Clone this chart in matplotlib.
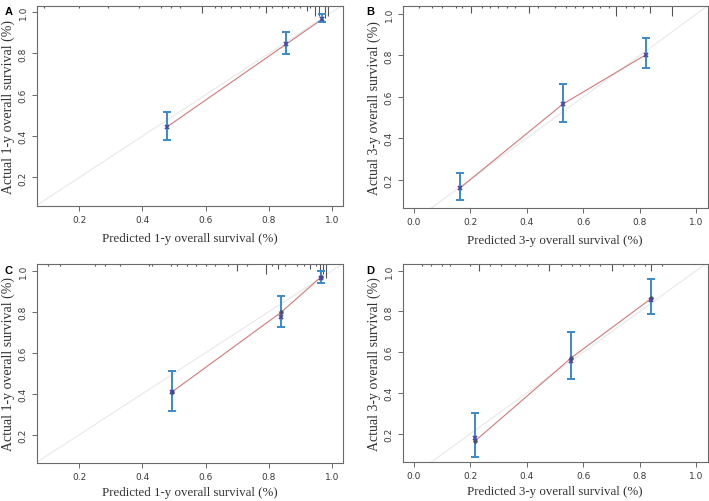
import matplotlib
matplotlib.use("Agg")
import matplotlib.pyplot as plt
import numpy as np

# ---------------- data ----------------
labels = ["A", "B", "C", "D"]
xlabels = ["Predicted 1-y overall survival (%)", "Predicted 3-y overall survival (%)",
           "Predicted 1-y overall survival (%)", "Predicted 3-y overall survival (%)"]
ylabels = ["Actual 1-y overall survival (%)", "Actual 3-y overall survival (%)",
           "Actual 1-y overall survival (%)", "Actual 3-y overall survival (%)"]

pred_A = [0.479, 0.854, 0.969]
obs_A = [0.446, 0.844, 0.966]
lo_A = [0.380, 0.797, 0.950]
hi_A = [0.518, 0.902, 0.992]
corr_A = [0.446, 0.844, 0.966]

pred_B = [0.163, 0.528, 0.821]
obs_B = [0.158, 0.565, 0.803]
lo_B = [0.103, 0.480, 0.741]
hi_B = [0.232, 0.662, 0.883]
corr_B = [0.158, 0.565, 0.803]

pred_C = [0.493, 0.838, 0.965]
obs_C = [0.408, 0.796, 0.969]
lo_C = [0.317, 0.723, 0.940]
hi_C = [0.513, 0.875, 1.000]
corr_C = [0.408, 0.772, 0.966]

pred_D = [0.216, 0.558, 0.841]
obs_D = [0.164, 0.573, 0.864]
lo_D = [0.087, 0.469, 0.788]
hi_D = [0.302, 0.699, 0.958]
corr_D = [0.180, 0.557, 0.855]

# rug of predicted probabilities (position, relative length)
rug_x_A = [0.09, 0.20, 0.29, 0.39, 0.46, 0.49, 0.52, 0.59, 0.63, 0.65, 0.68, 0.71, 0.74, 0.77, 0.79,
           0.81, 0.84, 0.86, 0.88, 0.90, 0.92, 0.93, 0.946, 0.96, 0.978, 0.988]
rug_h_A = [1, 1, 1, 1, 1, 1, 1, 3, 1, 1, 1, 1, 1, 1, 3,
           1, 1, 1, 1, 1, 2, 1, 4, 4, 5, 4]
rug_x_B = [0.02, 0.065, 0.10, 0.15, 0.17, 0.204, 0.24, 0.27, 0.30, 0.33, 0.36, 0.408, 0.44, 0.50,
           0.54, 0.57, 0.60, 0.63, 0.66, 0.69, 0.715, 0.75, 0.78, 0.81, 0.835, 0.915]
rug_h_B = [1, 1, 1, 1, 1, 3, 1, 1, 1, 1, 1, 3, 1, 1,
           1, 1, 1, 1, 1, 1, 4, 1, 1, 1, 3, 4]
rug_x_C = [0.10, 0.14, 0.25, 0.28, 0.33, 0.42, 0.43, 0.49, 0.51, 0.54, 0.57, 0.60, 0.63, 0.67, 0.70,
           0.73, 0.79, 0.81, 0.83, 0.85, 0.89, 0.91, 0.93, 0.95, 0.962, 0.972, 0.982]
rug_h_C = [1, 1, 1, 1, 1, 1, 1, 1, 1, 1, 1, 1, 1, 1, 3,
           1, 4, 1, 2, 1, 1, 1, 2, 1, 5, 4, 6]
rug_x_D = [0.03, 0.06, 0.10, 0.13, 0.20, 0.23, 0.27, 0.31, 0.36, 0.40, 0.44, 0.48, 0.52, 0.56,
           0.59, 0.62, 0.66, 0.70, 0.74, 0.78, 0.82, 0.84, 0.88]
rug_h_D = [1, 1, 1, 1, 1, 3, 1, 1, 1, 1, 1, 3, 1, 1,
           1, 1, 1, 3, 1, 1, 1, 3, 1]

panels = [
    (pred_A, obs_A, lo_A, hi_A, corr_A, rug_x_A, rug_h_A, (0.066, 1.035), (0.063, 1.029), False),
    (pred_B, obs_B, lo_B, hi_B, corr_B, rug_x_B, rug_h_B, (-0.039, 1.040), (0.063, 1.039), False),
    (pred_C, obs_C, lo_C, hi_C, corr_C, rug_x_C, rug_h_C, (0.066, 1.035), (0.063, 1.032), True),
    (pred_D, obs_D, lo_D, hi_D, corr_D, rug_x_D, rug_h_D, (-0.039, 1.040), (0.063, 1.032), True),
]

positions = [
    [0.052, 0.588, 0.432, 0.398],
    [0.568, 0.584, 0.430, 0.402],
    [0.052, 0.076, 0.432, 0.396],
    [0.568, 0.078, 0.430, 0.394],
]
letter_pos = [(0.006, 0.986), (0.517, 0.986), (0.006, 0.470), (0.517, 0.470)]

fig = plt.figure(figsize=(7.09, 5.02), dpi=100)
spine_c = "#6a6a6a"
tick_c = "#3a3a3a"

for i, (px, ob, lo, hi, co, rx, rh, xl, yl, show_dot) in enumerate(panels):
    ax = fig.add_axes(positions[i])
    ax.set_xlim(*xl)
    ax.set_ylim(*yl)
    # ideal line
    ax.plot([-0.1, 1.1], [-0.1, 1.1], color="#ebebeb", lw=0.9, zorder=1)
    # calibration line
    ax.plot(px, ob, color="#d27a7a", lw=0.8, zorder=2)
    # error bars
    pxa = np.array(px); oba = np.array(ob)
    ax.errorbar(pxa, oba, yerr=[oba - np.array(lo), np.array(hi) - oba], fmt="none",
                ecolor="#3a8acb", elinewidth=1.4, capsize=3.2, capthick=1.4, zorder=3)
    if show_dot:
        ax.plot(px, ob, "o", color="#505070", ms=2.2, zorder=4)
    ax.plot(px, co, "x", color="#4545a8", ms=3.5, mew=1.2, zorder=5)
    # rug
    rha = np.array(rh, dtype=float) * 0.012
    ax.vlines(rx, 1 - rha, 1, transform=ax.get_xaxis_transform(), color="#555555", lw=0.8, zorder=2)

    if i in (0, 2):
        ax.set_xticks([0.2, 0.4, 0.6, 0.8, 1.0])
    else:
        ax.set_xticks([0.0, 0.2, 0.4, 0.6, 0.8, 1.0])
    ax.set_yticks([0.2, 0.4, 0.6, 0.8, 1.0])
    ax.xaxis.set_major_formatter(matplotlib.ticker.FormatStrFormatter("%.1f"))
    ax.yaxis.set_major_formatter(matplotlib.ticker.FormatStrFormatter("%.1f"))
    ax.tick_params(axis="both", direction="out", length=3.5, width=0.7, color=spine_c,
                   labelsize=6.5, labelcolor=tick_c, pad=3)
    for lab in ax.get_yticklabels():
        lab.set_rotation(90)
        lab.set_va("center")
    for s in ax.spines.values():
        s.set_color(spine_c)
        s.set_linewidth(0.8)
    ax.set_xlabel(xlabels[i], family="Liberation Serif", fontsize=9.3, color="#333333",
                  labelpad=6 if i < 2 else 4)
    ax.set_ylabel(ylabels[i], family="Liberation Serif", fontsize=10, color="#333333", labelpad=3)

    fig.text(letter_pos[i][0], letter_pos[i][1], labels[i], fontsize=8, fontweight="bold",
             family="Liberation Sans", va="top", ha="left")

fig.savefig("out.png", dpi=100)
